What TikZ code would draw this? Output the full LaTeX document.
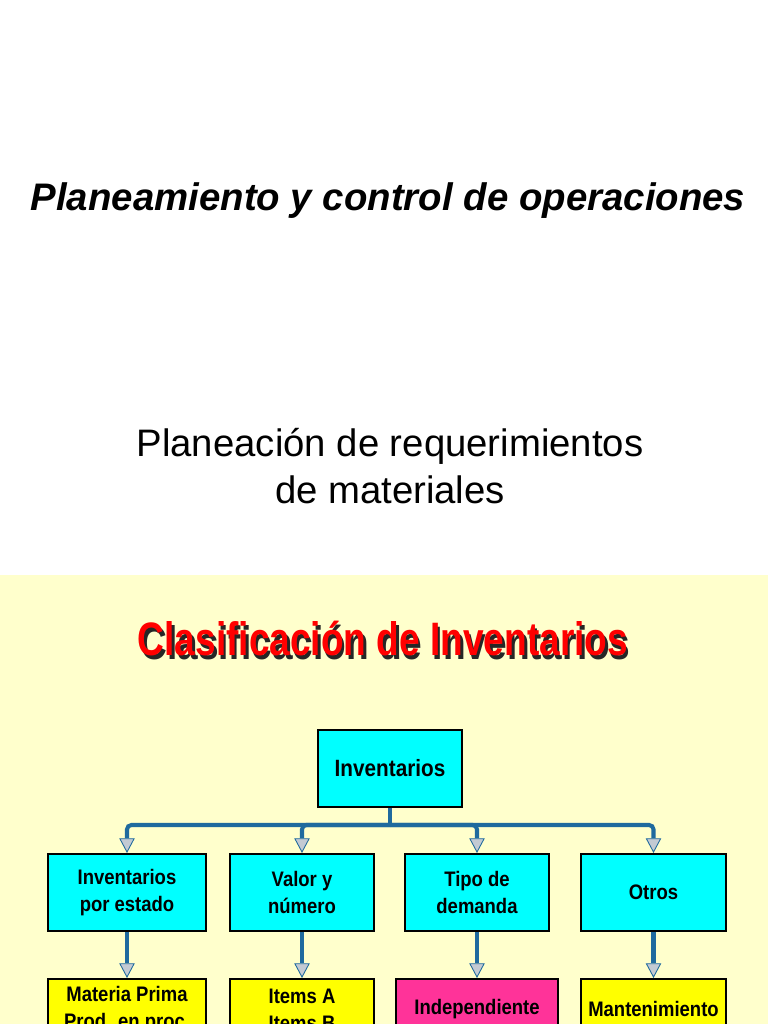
\documentclass[tikz,border=0pt]{standalone}
\usepackage{fontspec}
\setmainfont{Liberation Sans}
\newfontfamily\narrowfont[FakeStretch=0.88]{Liberation Sans}
\newfontfamily\titlefont[FakeStretch=0.79]{Liberation Sans}
\usetikzlibrary{arrows.meta,positioning}
\definecolor{fondo}{HTML}{FFFFCC}
\definecolor{celeste}{HTML}{00FFFF}
\definecolor{amarillo}{HTML}{FFFF00}
\definecolor{fucsia}{HTML}{FF3399}
\definecolor{azulenlace}{HTML}{1F6A9E}
\definecolor{punta}{HTML}{C3CAD3}

\begin{document}
\begin{tikzpicture}[x=0.02cm,y=-0.02cm,
  caja/.style={draw=black,line width=1.1pt,inner sep=0pt,align=center,
    minimum width=2.88cm,minimum height=1.54cm,anchor=north,
    font=\narrowfont\bfseries\fontsize{11.95pt}{15.4pt}\selectfont},
  tipo/.style={caja,fill=celeste},
  hoja/.style={caja,fill=amarillo,minimum height=1.22cm},
  tronco/.style={draw=azulenlace,line width=2.3pt},
  enlace/.style={tronco,rounded corners=2.5pt,
    -{Triangle[length=8.4pt,width=8.8pt,fill=punta,line width=0.5pt]}}]
  \clip (0,0) rectangle (768,1024);

  % fondo de las dos laminas
  \fill[white] (0,0) rectangle (768,575);
  \fill[fondo] (0,575) rectangle (768,1024);

  % portada
  \node[font=\bfseries\itshape\fontsize{21.85pt}{26pt}\selectfont] (tit) at (388,201)
    {Planeamiento y control de operaciones};
  \node[align=center,font=\fontsize{21.8pt}{26.7pt}\selectfont] (sub) at (390,466)
    {Planeación de requerimientos\\de materiales};

  % titulo con sombra
  \node[font=\titlefont\bfseries\fontsize{26.7pt}{30pt}\selectfont,black!85] (sombra) at (385.5,642.5)
    {Clasificación de Inventarios};
  \node[font=\titlefont\bfseries\fontsize{26.7pt}{30pt}\selectfont,red] (clasif) at (383,639)
    {Clasificación de Inventarios};

  % arbol
  \node[tipo,font=\narrowfont\bfseries\fontsize{13.4pt}{16pt}\selectfont] (inv) at (390,729) {Inventarios};
  \node[tipo,minimum width=3.16cm] (est) at (127,853) {Inventarios\\por estado};
  \node[tipo] (val) at (302,853) {Valor y\\número};
  \node[tipo] (dem) at (477,853) {Tipo de\\demanda};
  \node[tipo,minimum width=2.9cm] (otr) at (653.5,853) {Otros};

  \node[hoja,minimum width=3.16cm] (mat) at (127,978) {Materia Prima\\Prod. en proc.};
  \node[hoja] (ite) at (302,978) {Items A\\Items B};
  \node[hoja,fill=fucsia,minimum width=3.24cm] (ind) at (477,978) {Independiente};
  \node[hoja,minimum width=2.9cm] (man) at (653.5,978) {Mantenimiento};

  \coordinate (bus) at (390,825);
  \draw[tronco] (inv.south) -- (bus);
  \foreach \n in {est,val,dem,otr}
    \draw[enlace] (bus) -| (\n.north);
  \foreach \a/\b in {est/mat,val/ite,dem/ind,otr/man}
    \draw[enlace] (\a.south) -- (\a.south |- \b.north);
\end{tikzpicture}
\end{document}
